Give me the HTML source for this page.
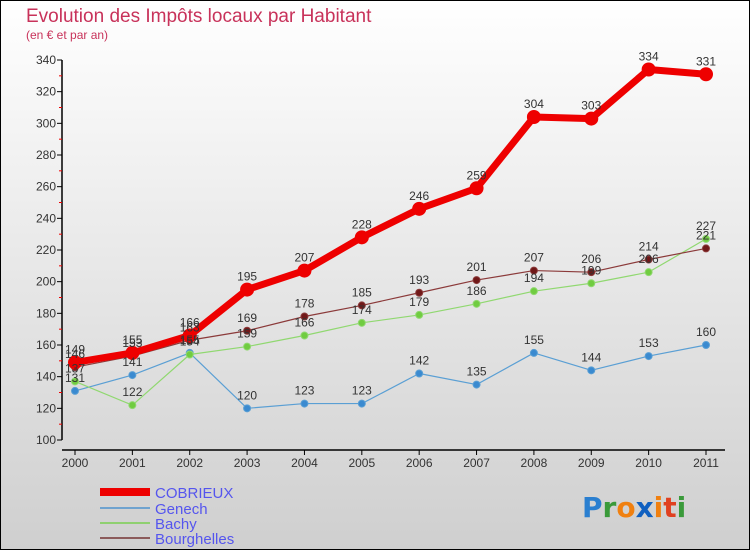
<!DOCTYPE html>
<html><head><meta charset="utf-8"><style>
html,body{margin:0;padding:0;}
body{width:750px;height:550px;overflow:hidden;font-family:"Liberation Sans",sans-serif;}
</style></head><body>
<svg id="chart" width="750" height="550" xmlns="http://www.w3.org/2000/svg" font-family="Liberation Sans, sans-serif">
<defs><linearGradient id="bg" x1="0" y1="0" x2="0" y2="1"><stop offset="0" stop-color="#ffffff"/><stop offset="1" stop-color="#cfcfcf"/></linearGradient></defs>
<rect x="0.5" y="0.5" width="749" height="549" fill="url(#bg)" stroke="#000" stroke-width="1"/>
<text x="26" y="22" font-size="19" fill="#c8325a">Evolution des Impôts locaux par Habitant</text>
<text x="26" y="39" font-size="12" fill="#c8325a">(en € et par an)</text>
<g id="axes"></g><g id="series"></g><g id="labels"></g>
<g font-size="15" fill="#5555ee">
<rect x="100" y="488" width="50" height="8" fill="#ee0000"/><text x="155" y="498" fill="#5555ee">COBRIEUX</text>
<rect x="100" y="507" width="50" height="2" fill="#6fa3cf"/><text x="155" y="514" fill="#5555ee">Genech</text>
<rect x="100" y="522" width="50" height="2" fill="#8fd070"/><text x="155" y="529" fill="#5555ee">Bachy</text>
<rect x="100" y="537" width="50" height="2" fill="#8b5a5a"/><text x="155" y="544" fill="#5555ee">Bourghelles</text>
</g>
<g font-size="28" font-weight="bold" font-family="DejaVu Sans, sans-serif">
<text x="582" y="517"><tspan fill="#2a7fd0">P</tspan><tspan fill="#3a9a3a">r</tspan><tspan fill="#f08010">o</tspan><tspan fill="#1060c0">x</tspan><tspan fill="#f08010">i</tspan><tspan fill="#e04020">t</tspan><tspan fill="#3a9a3a">i</tspan></text>
</g>
</svg>
<script>
const years=["2000","2001","2002","2003","2004","2005","2006","2007","2008","2009","2010","2011"];
const cobrieux=[149,155,166,195,207,228,246,259,304,303,334,331];
const genech=[131,141,155,120,123,123,142,135,155,144,153,160];
const bachy=[137,122,154,159,166,174,179,186,194,199,206,227];
const bourghelles=[146,153,163,169,178,185,193,201,207,206,214,221];
const yTicks=[100,120,140,160,180,200,220,240,260,280,300,320,340];
const NS="http://www.w3.org/2000/svg";
const xs=i=>75+i*(706-75)/11;
const ys=v=>440-(v-100)*(380/240);
function mk(tag,attrs,parent){const e=document.createElementNS(NS,tag);for(const k in attrs)e.setAttribute(k,attrs[k]);parent.appendChild(e);return e;}
const ax=document.getElementById('axes');
const yaxis=mk('line',{x1:62,y1:60,x2:62,y2:440,stroke:'#000','stroke-width':1.5},ax);


yTicks.forEach((t,i)=>{
  const y=ys(t);
  mk('line',{x1:57,y1:y,x2:62,y2:y,stroke:'#000'},ax);
  const lb=mk('text',{x:56,y:y+4,'font-size':12,'text-anchor':'end',fill:'#333'},ax);
  
  
  lb.textContent=t;
  if(i<yTicks.length-1){const ym=ys(t+10);mk('line',{x1:59,y1:ym,x2:62,y2:ym,stroke:'#e00'},ax);}
});
const xaxis=mk('line',{x1:62,y1:450,x2:725,y2:450,stroke:'#000','stroke-width':1.5},ax);


years.forEach((yr,i)=>{
  const x=xs(i);
  mk('line',{x1:x,y1:450,x2:x,y2:455,stroke:'#000'},ax);
  const lb=mk('text',{x:x,y:467,'font-size':12,'text-anchor':'middle',fill:'#333'},ax);
  
  
  lb.textContent=yr;
});
const sg=document.getElementById('series'),lg=document.getElementById('labels');
function draw(data,name,color,w,r,dot){
  const pl=mk('polyline',{points:data.map((v,i)=>xs(i)+','+ys(v)).join(' '),fill:'none',stroke:color,'stroke-width':w,'stroke-linejoin':'round'},sg);
  
  
  data.forEach((v,i)=>{
    const c=mk('circle',{cx:xs(i),cy:ys(v),r:r,fill:dot,stroke:color,'stroke-width':1},sg);
    
    
    const t=mk('text',{x:xs(i),y:ys(v)-9,'font-size':12,'text-anchor':'middle',fill:'#333'},lg);
    
    
    t.textContent=v;
  });
}
draw(genech,'genech','#5a9fd4',1.2,3.5,'#3a8ad0');
draw(bachy,'bachy','#90d870',1.2,3.5,'#70cc40');
draw(bourghelles,'bourghelles','#8b3a3a',1.2,3.5,'#701818');
draw(cobrieux,'cobrieux','#ee0000',7,6.5,'#ee0000');
</script>
</body></html>
